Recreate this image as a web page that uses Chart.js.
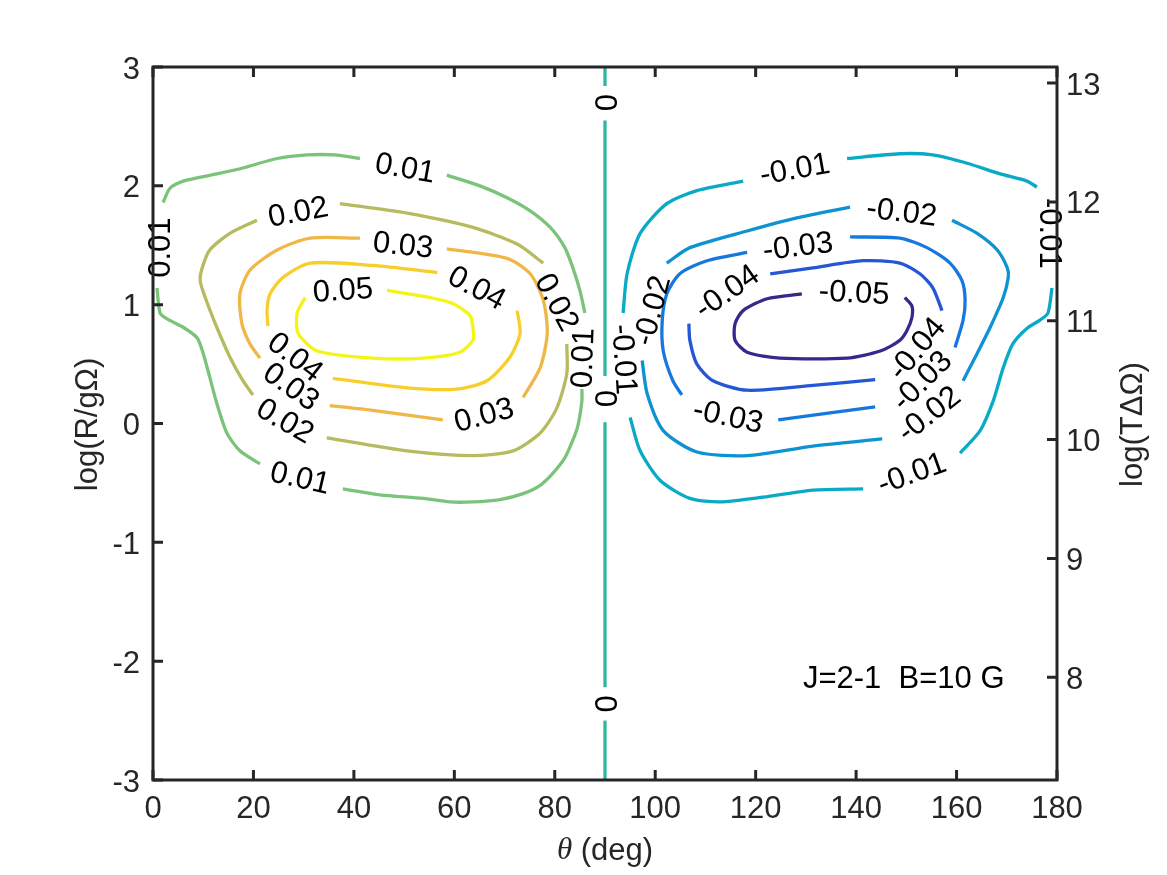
<!DOCTYPE html>
<html>
<head>
<meta charset="utf-8">
<script src="https://cdn.jsdelivr.net/npm/chart.js@4.4.1/dist/chart.umd.min.js"></script>
<style>
  html, body { margin: 0; padding: 0; background: #ffffff; }
  #wrap { width: 1167px; height: 875px; position: relative; }
</style>
</head>
<body>
<div id="wrap"><canvas id="c" width="1167" height="875"></canvas></div>
<script>
// ---------------- data (theta in deg, log(R/gΩ)) ----------------
const levels = [-0.05, -0.04, -0.03, -0.02, -0.01, 0, 0.01, 0.02, 0.03, 0.04, 0.05];

const c_p05 = [
  [[46.6,1.12],[55.2,1.06],[59.7,1.01],[63.1,0.91],[63.7,0.81],[63.7,0.70],[61.1,0.60],[53.8,0.55],[43.8,0.55],[32.7,0.61],[28.9,0.76],[28.7,0.93],[30.3,1.06]]
];
const c_p04 = [
  [[56.6,1.27],[43.8,1.33],[31.3,1.35],[25.9,1.23],[23.3,1.09],[22.7,0.95],[22.9,0.82]],
  [[35.8,0.38],[50.6,0.30],[60.5,0.29],[66.5,0.36],[71.1,0.56],[73.1,0.76],[72.5,0.95]]
];
const c_p03 = [
  [[41.2,1.56],[31.3,1.56],[24.7,1.46],[19.3,1.29],[17.3,1.09],[17.7,0.84],[19.3,0.67],[21.3,0.55]],
  [[35.2,0.15],[43.8,0.11],[57.7,0.03]],
  [[73.7,0.22],[77.1,0.47],[78.5,0.76],[77.7,1.04],[75.1,1.26],[70.5,1.39],[58.5,1.47]]
];
const c_p02 = [
  [[37.2,1.85],[50.6,1.77],[63.7,1.65],[72.5,1.51],[77.7,1.35]],
  [[82.4,0.67],[82.4,0.42],[80.4,0.13],[77.1,-0.08],[71.7,-0.23],[63.7,-0.27],[50.6,-0.23],[34.6,-0.12]],
  [[19.9,0.24],[17.9,0.36],[15.3,0.56],[12.7,0.81],[10.4,1.06],[9.4,1.20],[9.8,1.31],[11.3,1.46],[15.3,1.60],[20.7,1.71]]
];
const c_p01 = [
  [[2.0,1.86],[3.4,1.98],[6.0,2.04],[12.7,2.10],[17.9,2.15],[24.7,2.23],[30.7,2.26],[36.2,2.26],[41.2,2.23]],
  [[58.5,2.09],[65.1,2.00],[70.5,1.90],[75.1,1.79],[79.1,1.65],[82.0,1.48],[83.6,1.31],[85.0,1.12],[86.0,0.93]],
  [[85.4,0.29],[85.4,0.19],[84.6,-0.02],[83.6,-0.14],[82.0,-0.29],[79.6,-0.42],[77.1,-0.52],[73.7,-0.59],[69.1,-0.64],[63.7,-0.66],[59.1,-0.66],[53.8,-0.63],[45.2,-0.60],[37.8,-0.55]],
  [[21.3,-0.34],[17.3,-0.23],[14.7,-0.08],[12.7,0.17],[11.3,0.39],[10.0,0.59],[8.8,0.72],[6.0,0.81],[2.8,0.88],[1.4,0.93],[0.8,1.14]]
];
const c_0 = [
  [[90,3],[90,2.84]],
  [[90,2.55],[90,0.40]],
  [[90,0.01],[90,-2.22]],
  [[90,-2.50],[90,-3]]
];
const c_m01 = [
  [[93.6,0.93],[94.4,1.26],[97.0,1.60],[102.3,1.85],[108.3,1.96],[117.5,2.04]],
  [[138.2,2.23],[148.7,2.27],[155.3,2.26],[162.1,2.19],[168.7,2.10],[174.0,2.04],[176.0,1.99]],
  [[179.0,1.14],[178.2,0.93],[176.6,0.87],[174.0,0.80],[171.2,0.67],[169.3,0.47],[167.3,0.19],[164.7,-0.06],[160.7,-0.25]],
  [[141.4,-0.55],[131.4,-0.56],[121.5,-0.62],[112.9,-0.66],[106.9,-0.63],[101.0,-0.48],[97.0,-0.23],[95.0,0.05]]
];
const c_m02 = [
  [[102.3,1.35],[106.9,1.48],[118.3,1.62],[128.2,1.73],[138.8,1.82]],
  [[159.1,1.71],[164.1,1.60],[168.1,1.46],[170.1,1.31],[170.3,1.23],[169.3,1.06],[166.7,0.81],[164.1,0.59],[161.3,0.36]],
  [[145.2,-0.13],[131.4,-0.19],[118.3,-0.27],[108.3,-0.24],[101.6,-0.06],[98.4,0.25],[97.4,0.53]]
];
const c_m03 = [
  [[118.3,1.44],[110.3,1.37],[104.9,1.26],[102.3,1.09],[101.4,0.87],[101.6,0.61],[103.5,0.36],[105.3,0.24]],
  [[124.5,0.03],[134.8,0.09],[143.8,0.14]],
  [[159.7,0.64],[161.3,0.87],[161.7,1.04],[161.1,1.20],[158.7,1.35],[154.1,1.48],[148.7,1.56],[138.8,1.57]]
];
const c_m04 = [
  [[122.9,1.26],[131.4,1.31],[141.4,1.37],[148.7,1.35],[152.7,1.26],[155.3,1.14],[157.1,0.95]],
  [[143.8,0.37],[131.4,0.32],[118.3,0.28],[111.5,0.36],[108.3,0.50],[106.9,0.70],[106.7,0.84]]
];
const c_m05 = [
  [[129.2,1.09],[122.3,1.05],[117.5,0.95],[115.9,0.84],[115.9,0.70],[118.3,0.60],[124.8,0.55],[138.2,0.55],[144.8,0.61],[148.7,0.70],[150.1,0.78],[151.1,0.89],[151.1,0.99],[149.7,1.06]]
];
const contourSets = [c_m05, c_m04, c_m03, c_m02, c_m01, c_0, c_p01, c_p02, c_p03, c_p04, c_p05];

// contour labels: text, theta, log(R/gΩ), rotation (deg)
const labelTexts  = ['0.01','0.02','0.03','0.05','0.04','0.02','0.01','0.04','0.03','0.02','0.03','0.01','0.01',
                     '-0.01','-0.02','-0.03','-0.05','-0.04','-0.02','-0.01','-0.04','-0.03','-0.02','-0.03','-0.01','-0.01',
                     '0','0','0'];
const labelX      = [50.2, 28.9, 49.8, 37.8, 64.5, 80.4, 85.6, 28.3, 27.5, 26.3, 65.9, 29.3, 1.4,
                     127.8, 149.1, 128.4, 139.6, 114.3, 99.4, 93.8, 152.1, 153.1, 154.5, 114.5, 151.1, 178.6,
                     90, 90, 90];
const labelY      = [2.15, 1.78, 1.50, 1.12, 1.14, 1.02, 0.55, 0.56, 0.31, 0.02, 0.07, -0.46, 1.48,
                     2.14, 1.78, 1.49, 1.10, 1.11, 0.95, 0.54, 0.63, 0.36, 0.08, 0.06, -0.42, 1.60,
                     2.70, 0.21, -2.36];
const labelAngle  = [10, -11, 6, -4, 28, 62, -88, 38, 35, 30, -15, 13, -90,
                     -10, 7, -7, 3, -35, -75, 86, -50, -45, -38, 12, -20, 90,
                     90, 90, 90];

const xTicks  = [0, 20, 40, 60, 80, 100, 120, 140, 160, 180];
const yTicks  = [-3, -2, -1, 0, 1, 2, 3];
const y2Ticks = [8, 9, 10, 11, 12, 13];
const y2Offset = 10.135;   // log(TΔΩ) = log(R/gΩ) + offset

const noteText = 'J=2-1  B=10 G';
const noteX = 129.4, noteY = -2.15;

// ---------------- styles ----------------
const levelColors = ['#35298b','#2456d6','#1678df','#0d92d2','#09aac5','#2fb79c','#7bc37a','#b5bb5e','#efb747','#f8ce2a','#f4f514'];
const FONT = '"Liberation Sans", Arial, Helvetica, sans-serif';
const FS = 31;
const AX = '#262626';

// ---------------- datasets ----------------
const datasets = [];
contourSets.forEach((segs, li) => {
  segs.forEach(seg => {
    datasets.push({
      data: seg.map(p => ({x: p[0], y: p[1]})),
      borderColor: levelColors[li],
      borderWidth: 3.3,
      pointRadius: 0,
      showLine: true,
      tension: 0.25,
      fill: false,
      xAxisID: 'x',
      yAxisID: 'y'
    });
  });
});

const decor = {
  id: 'decor',
  afterDatasetsDraw(chart) {
    const ctx = chart.ctx, xs = chart.scales.x, ys = chart.scales.y;
    ctx.save();
    ctx.fillStyle = '#000';
    ctx.font = FS + 'px ' + FONT;
    ctx.textAlign = 'center';
    ctx.textBaseline = 'middle';
    for (let i = 0; i < labelTexts.length; i++) {
      const px = xs.getPixelForValue(labelX[i]);
      const py = ys.getPixelForValue(labelY[i]);
      ctx.save();
      ctx.translate(px, py);
      ctx.rotate(labelAngle[i] * Math.PI / 180);
      ctx.fillText(labelTexts[i], 0, 1);
      ctx.restore();
    }
    // annotation
    ctx.textAlign = 'left';
    ctx.fillText(noteText, xs.getPixelForValue(noteX), ys.getPixelForValue(noteY));
    ctx.restore();
  },
  afterDraw(chart) {
    const ctx = chart.ctx, a = chart.chartArea;
    const xs = chart.scales.x, ys = chart.scales.y, y2 = chart.scales.y2;
    ctx.save();
    ctx.strokeStyle = AX;
    ctx.lineWidth = 3;
    ctx.lineCap = 'butt';
    const TL = 10;
    ctx.beginPath();
    xTicks.forEach(v => {
      const p = xs.getPixelForValue(v);
      ctx.moveTo(p, a.bottom); ctx.lineTo(p, a.bottom - TL);
      ctx.moveTo(p, a.top); ctx.lineTo(p, a.top + TL);
    });
    yTicks.forEach(v => {
      const p = ys.getPixelForValue(v);
      ctx.moveTo(a.left, p); ctx.lineTo(a.left + TL, p);
    });
    y2Ticks.forEach(v => {
      const p = y2.getPixelForValue(v);
      ctx.moveTo(a.right, p); ctx.lineTo(a.right - TL, p);
    });
    ctx.stroke();
    ctx.strokeRect(a.left, a.top, a.right - a.left, a.bottom - a.top);

    // axis titles
    ctx.fillStyle = AX;
    ctx.textBaseline = 'middle';
    ctx.textAlign = 'center';
    ctx.font = FS + 'px ' + FONT;
    const cy = (a.top + a.bottom) / 2;
    ctx.save(); ctx.translate(88, cy + 1); ctx.rotate(-Math.PI / 2); ctx.fillText('log(R/gΩ)', 0, 0); ctx.restore();
    ctx.save(); ctx.translate(1133, cy + 1); ctx.rotate(-Math.PI / 2); ctx.fillText('log(TΔΩ)', 0, 0); ctx.restore();
    // theta title
    const cx = (a.left + a.right) / 2;
    const serif = 'italic ' + FS + 'px "Liberation Serif", "DejaVu Serif", serif';
    const sans = FS + 'px ' + FONT;
    ctx.font = serif; const w1 = ctx.measureText('θ').width;
    ctx.font = sans; const w2 = ctx.measureText(' (deg)').width;
    const x0 = cx - (w1 + w2) / 2;
    ctx.textAlign = 'left';
    ctx.font = serif; ctx.fillText('θ', x0, 851);
    ctx.font = sans; ctx.fillText(' (deg)', x0 + w1, 851);
    ctx.restore();
  }
};

new Chart(document.getElementById('c'), {
  type: 'scatter',
  data: { datasets },
  options: {
    responsive: false,
    animation: false,
    devicePixelRatio: 1,
    layout: { padding: { top: 67, left: 0, right: 0, bottom: 0 } },
    plugins: { legend: { display: false }, tooltip: { enabled: false }, title: { display: false } },
    scales: {
      x: {
        type: 'linear', position: 'bottom', min: 0, max: 180,
        grid: { display: false, drawTicks: false }, border: { display: false },
        afterBuildTicks: s => { s.ticks = xTicks.map(v => ({ value: v })); },
        ticks: { color: AX, font: { size: FS, family: FONT }, padding: 11, maxRotation: 0, autoSkip: false },
        afterFit: s => { s.height = 95; }
      },
      y: {
        type: 'linear', position: 'left', min: -3, max: 3,
        grid: { display: false, drawTicks: false }, border: { display: false },
        afterBuildTicks: s => { s.ticks = yTicks.map(v => ({ value: v })); },
        ticks: { color: AX, font: { size: FS, family: FONT }, padding: 13, labelOffset: 3, autoSkip: false },
        afterFit: s => { s.width = 153; }
      },
      y2: {
        type: 'linear', position: 'right', min: -3 + y2Offset, max: 3 + y2Offset,
        grid: { display: false, drawTicks: false }, border: { display: false },
        afterBuildTicks: s => { s.ticks = y2Ticks.map(v => ({ value: v })); },
        ticks: { color: AX, font: { size: FS, family: FONT }, padding: 9, labelOffset: 3, autoSkip: false },
        afterFit: s => { s.width = 110; }
      }
    }
  },
  plugins: [decor]
});
</script>
</body>
</html>
